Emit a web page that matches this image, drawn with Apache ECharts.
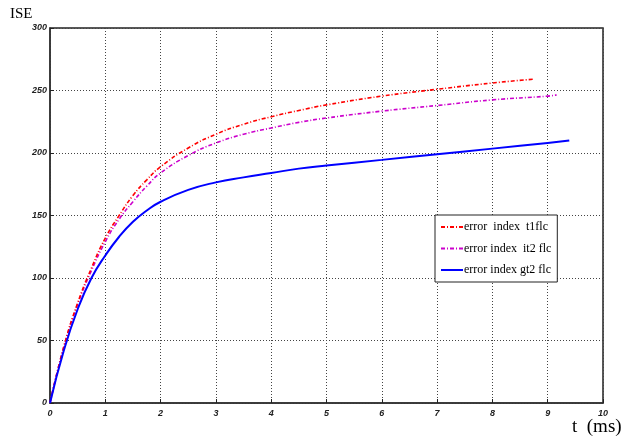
<!DOCTYPE html>
<html>
<head>
<meta charset="utf-8">
<script src="https://cdn.jsdelivr.net/npm/echarts@6/dist/echarts.min.js"></script>
<style>html,body{margin:0;padding:0;background:#fff}#c{width:628px;height:442px}</style>
</head>
<body>
<div id="c"></div>
<script>
// Data (t in ms, ISE)
const seriesNames = ['error  index  t1flc', 'error index  it2 flc', 'error index gt2 flc'];
const t1flc = [[0,0],[0.25,45],[0.5,80],[0.75,108],[1,132],[1.25,150],[1.5,166],[1.75,178.5],[2,189],[2.5,204],[3,215],[3.5,223],[4,229],[4.5,234],[5,238.5],[6,245.5],[7,251],[8,256],[8.73,259]];
const it2flc = [[0,0],[0.25,45],[0.5,79],[0.75,106],[1,129],[1.25,147],[1.5,161],[1.75,173.5],[2,184],[2.5,198],[3,208],[3.5,215],[4,220],[4.5,224.5],[5,228],[6,233.5],[7,238],[8,242.5],[9,245.5],[9.16,246.5]];
const gt2flc = [[0,0],[0.25,42],[0.5,75],[0.75,100],[1,118],[1.25,133],[1.5,145],[1.75,154],[2,161],[2.5,170.5],[3,176.5],[3.5,180.5],[4,184],[4.5,187.5],[5,190],[6,194.5],[7,199],[8,203.5],[9,208],[9.39,210]];
const xTicks = [0,1,2,3,4,5,6,7,8,9,10];
const yTicks = [0,50,100,150,200,250,300];

const chart = echarts.init(document.getElementById('c'), null, {renderer:'canvas'});
const tickFont = {fontFamily:'Liberation Sans Narrow, Liberation Sans, Arial', fontStyle:'italic', fontWeight:'bold', fontSize:9, color:'#222'};
const gridLine = {show:true, lineStyle:{color:'#444', width:1, type:[1,2]}};
chart.setOption({
  animation:false,
  backgroundColor:'#fff',
  grid:{left:50, right:25, top:28, bottom:39, show:true, borderColor:'#222', borderWidth:1.5},
  xAxis:{type:'value', min:xTicks[0], max:xTicks[xTicks.length-1], interval:1,
    axisLine:{show:true, lineStyle:{color:'#333', width:1.5}},
    axisTick:{show:true, inside:true, length:4, lineStyle:{color:'#222'}},
    axisLabel:Object.assign({margin:6}, tickFont),
    splitLine:gridLine},
  yAxis:{type:'value', min:yTicks[0], max:yTicks[yTicks.length-1], interval:50,
    axisLine:{show:true, lineStyle:{color:'#333', width:1.5}},
    axisTick:{show:true, inside:true, length:4, lineStyle:{color:'#222'}},
    axisLabel:Object.assign({margin:3}, tickFont),
    splitLine:gridLine},
  legend:{orient:'vertical', left:435, top:215, padding:[6,6,6,5], itemGap:9.5, itemWidth:22, itemHeight:14,
    backgroundColor:'#fff', borderColor:'#222', borderWidth:1, borderRadius:0,
    itemStyle:{opacity:0},
    textStyle:{fontFamily:'Liberation Serif, Times New Roman, serif', fontSize:12, color:'#000', padding:[0,0,0,-4]},
    data:seriesNames},
  graphic:[
    {type:'text', left:10, top:7, style:{text:'ISE', font:'15px "Liberation Serif", serif', fill:'#000'}},
    {type:'text', left:572, top:418, style:{text:'t  (ms)', font:'19px "Liberation Serif", serif', fill:'#000'}}
  ],
  series:[
    {name:seriesNames[0], type:'line', data:t1flc, smooth:true, symbol:'none', z:3,
      lineStyle:{color:'#ff0000', width:1.6, type:[4,2,1,2]}, itemStyle:{color:'#ff0000'}},
    {name:seriesNames[1], type:'line', data:it2flc, smooth:true, symbol:'none', z:2,
      lineStyle:{color:'#cc00cc', width:1.6, type:[4,2,1,2]}, itemStyle:{color:'#cc00cc'}},
    {name:seriesNames[2], type:'line', data:gt2flc, smooth:true, symbol:'none', z:4,
      lineStyle:{color:'#0000ff', width:2}, itemStyle:{color:'#0000ff'}}
  ]
});
</script>
</body>
</html>
